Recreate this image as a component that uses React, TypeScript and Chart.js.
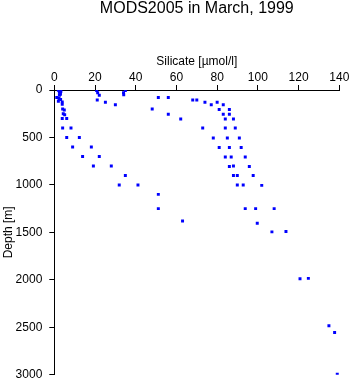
import React, { useEffect, useRef } from "react";
import { Chart, registerables } from "chart.js";

Chart.register(...registerables);

const chartTitle = "MODS2005 in March, 1999";
const xAxisTitle = "Silicate [µmol/l]";
const yAxisTitle = "Depth [m]";

// Silicate values (µmol/l) and matching depths (m)
const silicate = [
  2.3, 3.1, 2.0, 3.2, 2.5, 2.8, 3.0, 2.5, 1.2, 2.3, 3.1, 2.0, 3.9, 3.9, 4.1, 4.9, 4.4, 5.1, 3.9, 6.1,
  4.1, 8.2, 6.1, 12.3, 9.0, 18.2, 13.9, 22.1, 19.2, 28.0, 34.9, 31.9, 41.1, 51.1, 51.1, 63.0,
  20.8, 21.3, 22.1, 21.1, 25.1, 30.0, 34.9, 34.0, 34.1,
  51.1, 56.0, 48.1, 56.0, 62.1, 68.0, 70.0, 74.0, 77.1, 80.0, 83.0, 81.0, 86.0, 83.0, 86.0, 84.0, 88.0,
  72.9, 84.0, 88.9, 78.1, 85.0, 90.9, 81.0, 86.0, 91.8, 84.0, 86.9, 93.8, 86.0, 88.0, 95.8, 88.0, 89.9,
  97.7, 89.9, 92.8, 101.9, 93.8, 98.9, 108.0, 99.7, 106.9, 113.8, 120.7, 124.8, 134.9, 137.7, 139.0,
];
const depthM = [
  5, 5, 0, 15, 25, 35, 45, 55, 80, 90, 100, 120, 125, 150, 200, 210, 250, 260, 300, 300,
  400, 400, 500, 500, 600, 600, 700, 700, 800, 800, 900, 1000, 1000, 1100, 1250, 1380,
  5, 30, 55, 105, 128, 155, 5, 28, 50,
  80, 80, 200, 255, 305, 105, 105, 128, 155, 128, 155, 205, 205, 255, 255, 305, 305,
  400, 400, 400, 505, 505, 505, 605, 605, 605, 705, 705, 705, 805, 800, 805, 900, 900,
  900, 1000, 1000, 1005, 1250, 1250, 1250, 1405, 1495, 1490, 1990, 1985, 2485, 2555, 2995,
];

const xTicks = [0, 20, 40, 60, 80, 100, 120, 140];
const yTicks = [0, 500, 1000, 1500, 2000, 2500, 3000];

const FONT = "'Liberation Sans', Arial, Helvetica, sans-serif";

export default function App() {
  const ref = useRef<HTMLCanvasElement | null>(null);

  useEffect(() => {
    if (!ref.current) return;
    const points = silicate.map((x, i) => ({ x, y: depthM[i] }));
    const titlePlugin = {
      id: "centeredTitle",
      afterDraw(chart: any) {
        const { ctx, chartArea } = chart;
        ctx.save();
        ctx.font = `16px ${FONT}`;
        ctx.fillStyle = "#000";
        ctx.textAlign = "center";
        ctx.textBaseline = "middle";
        ctx.fillText(chartTitle, (chartArea.left + chartArea.right) / 2, 9);
        ctx.restore();
      },
    };
    const chart = new Chart(ref.current, {
      type: "scatter",
      data: {
        datasets: [
          {
            data: points,
            pointStyle: "rect",
            pointRadius: 2.1,
            pointHoverRadius: 2.1,
            backgroundColor: "#0000ff",
            borderColor: "#0000ff",
            borderWidth: 0,
          },
        ],
      },
      options: {
        animation: false,
        responsive: false,
        devicePixelRatio: 1,
        layout: { padding: { top: 54, left: 0, right: 0, bottom: 0 } },
        plugins: {
          legend: { display: false },
          title: { display: false },
          tooltip: { enabled: false },
        },
        scales: {
          x: {
            type: "linear",
            position: "top",
            min: 0,
            max: 140,
            afterBuildTicks: (s: any) => {
              s.ticks = xTicks.map((v) => ({ value: v }));
            },
            afterFit: (s: any) => {
              s.height = 36;
              s.paddingLeft = 0;
              s.paddingRight = 11.7;
            },
            ticks: {
              color: "#000",
              font: { family: FONT, size: 12 },
              padding: 0,
              maxRotation: 0,
              callback: (v: any) => String(v),
            },
            grid: { drawOnChartArea: false, drawTicks: true, tickLength: 5, color: "#000" },
            border: { display: true, color: "#000", width: 1 },
            title: {
              display: true,
              text: xAxisTitle,
              color: "#000",
              font: { family: FONT, size: 12 },
              padding: { top: 0, bottom: 2 },
            },
          },
          y: {
            type: "linear",
            reverse: true,
            min: 0,
            max: 3000,
            afterBuildTicks: (s: any) => {
              s.ticks = yTicks.map((v) => ({ value: v }));
            },
            afterFit: (s: any) => {
              s.width = 54.3;
              s.paddingTop = 0;
              s.paddingBottom = 9.3;
            },
            ticks: {
              color: "#000",
              font: { family: FONT, size: 12 },
              padding: 7,
              callback: (v: any) => String(v),
            },
            grid: { drawOnChartArea: false, drawTicks: true, tickLength: 5, color: "#000" },
            border: { display: true, color: "#000", width: 1 },
            title: {
              display: true,
              text: yAxisTitle,
              color: "#000",
              font: { family: FONT, size: 12 },
              padding: { top: 1, bottom: 2 },
            },
          },
        },
      },
      plugins: [titlePlugin],
    });
    return () => chart.destroy();
  }, []);

  return (
    <div style={{ position: "absolute", left: 0, top: 0, width: 351, height: 384, background: "#fff" }}>
      <canvas ref={ref} width={351} height={384} style={{ width: 351, height: 384, display: "block" }} />
    </div>
  );
}
